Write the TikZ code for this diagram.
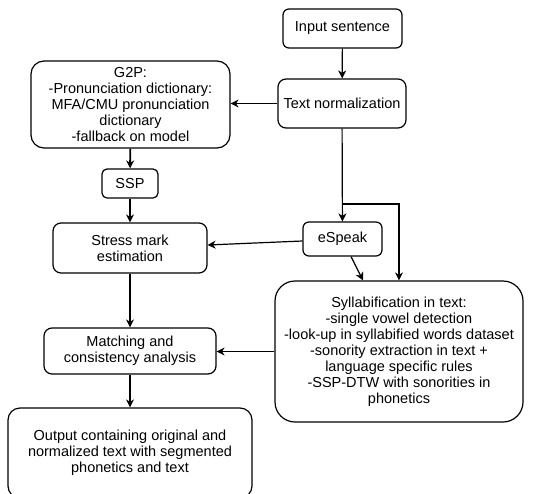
\documentclass[tikz,border=0pt]{standalone}
\usepackage{fontspec}
\setmainfont{Liberation Sans}
\usetikzlibrary{arrows.meta}
\begin{document}
\begin{tikzpicture}[x=1pt,y=-1pt,
  every node/.style={font=\fontsize{14.5}{16}\selectfont},
  box/.style={draw,line width=1.2pt,rectangle,inner sep=0pt,align=center},
  conn/.style={line width=1.2pt,-{Stealth[length=8pt,width=8pt,inset=2.5pt]}}]
\useasboundingbox (0,0) rectangle (557,493);
\node[box,rounded corners=6pt,minimum width=119pt,minimum height=39pt] (in) at (342.5,28.5) {Input sentence};
\node[box,rounded corners=8pt,minimum width=128pt,minimum height=49pt] (tn) at (342,103.5) {Text normalization};
\node[box,rounded corners=13pt,minimum width=199pt,minimum height=87pt] (g2p) at (130.5,104.5) {G2P:\\-Pronunciation dictionary:\\MFA/CMU pronunciation\\dictionary\\-fallback on model};
\node[box,rounded corners=5pt,minimum width=56pt,minimum height=29pt] (ssp) at (130,183.5) {SSP};
\node[box,rounded corners=8pt,minimum width=154pt,minimum height=50pt] (stress) at (130,248) {Stress mark\\estimation};
\node[box,rounded corners=6pt,minimum width=79pt,minimum height=34pt] (esp) at (342.5,239) {eSpeak};
\node[box,rounded corners=20pt,minimum width=248pt,minimum height=141pt] (syl) at (399,351.5) {Syllabification in text:\\-single vowel detection\\-look-up in syllabified words dataset\\-sonority extraction in text +\\language specific rules\\-SSP-DTW with sonorities in\\phonetics};
\node[box,rounded corners=8pt,minimum width=172pt,minimum height=46pt] (match) at (130,351) {Matching and\\consistency analysis};
\node[box,rounded corners=12pt,minimum width=244pt,minimum height=90pt] (out) at (130,453) {Output containing original and\\normalized text with segmented\\phonetics and text};
\coordinate (br) at (342,204);
\draw[conn] (in) -- (tn);
\draw[conn] (tn.west) -- (tn.west -| g2p.east);
\draw[conn,line width=1.8pt] (g2p) -- (ssp);
\draw[conn] (ssp) -- (stress);
\draw[conn] (tn) -- (esp);
\draw[conn] (br) -| (syl.north);
\draw[conn] ([yshift=-2pt]esp.west) -- ([yshift=3pt]stress.east);
\draw[conn] ([xshift=8.5pt]esp.south) -- ([xshift=-36pt]syl.north);
\draw[conn] (syl.west) -- (syl.west -| match.east);
\draw[conn] (stress) -- (match);
\draw[conn] (match) -- (out);
\end{tikzpicture}
\end{document}
